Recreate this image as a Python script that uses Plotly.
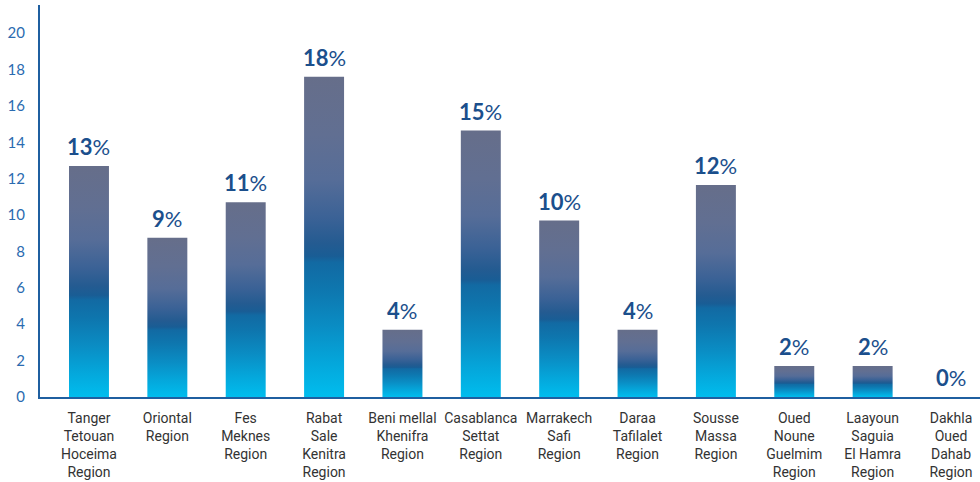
import plotly.graph_objects as go

regions = [
    "Tanger<br>Tetouan<br>Hoceima<br>Region",
    "Oriontal<br>Region",
    "Fes<br>Meknes<br>Region",
    "Rabat<br>Sale<br>Kenitra<br>Region",
    "Beni mellal<br>Khenifra<br>Region",
    "Casablanca<br>Settat<br>Region",
    "Marrakech<br>Safi<br>Region",
    "Daraa<br>Tafilalet<br>Region",
    "Sousse<br>Massa<br>Region",
    "Oued<br>Noune<br>Guelmim<br>Region",
    "Laayoun<br>Saguia<br>El Hamra<br>Region",
    "Dakhla<br>Oued<br>Dahab<br>Region",
]
shares = [12.7, 8.75, 10.7, 17.6, 3.7, 14.65, 9.7, 3.7, 11.65, 1.7, 1.7, 0.0]
y_ticks = [0, 2, 4, 6, 8, 10, 12, 14, 16, 18, 20]

bar_width = 0.51
gradient = [
    [0.0, "#00bdee"],
    [0.10, "#04a8dc"],
    [0.22, "#0a8dc4"],
    [0.34, "#0e76ae"],
    [0.42, "#126aa3"],
    [0.44, "#195d95"],
    [0.48, "#245b91"],
    [0.56, "#3b6296"],
    [0.68, "#566d98"],
    [0.82, "#616f92"],
    [1.0, "#666e8a"],
]

fig = go.Figure()

for i, v in enumerate(shares):
    if v <= 0:
        continue
    x0, x1 = i - bar_width / 2, i + bar_width / 2
    fig.add_trace(go.Scatter(
        x=[x0, x1, x1, x0, x0],
        y=[0, 0, v, v, 0],
        mode="lines",
        line=dict(width=0),
        fill="toself",
        fillgradient=dict(type="vertical", colorscale=gradient),
        hoverinfo="skip",
        showlegend=False,
    ))

for i, v in enumerate(shares):
    fig.add_annotation(
        x=i, y=v, xref="x", yref="y",
        text=f"<b>{round(v)}</b>%",
        showarrow=False, yanchor="bottom", yshift=4,
        font=dict(family="Lato", size=22, color="#1b4f8c"),
    )

fig.update_layout(
    width=980, height=482,
    margin=dict(l=40, r=0, t=5, b=85),
    paper_bgcolor="white", plot_bgcolor="white",
    showlegend=False,
    xaxis=dict(
        range=[-0.625, 11.37],
        tickvals=list(range(len(regions))),
        ticktext=regions,
        showgrid=False, zeroline=False,
        showline=True, linecolor="#1f5fa0", linewidth=2,
        ticks="", ticklabelstandoff=7,
        tickfont=dict(family="Roboto", size=14, color="#333333"),
    ),
    yaxis=dict(
        range=[0, 21.55],
        tickvals=y_ticks,
        showgrid=False, zeroline=False,
        showline=True, linecolor="#1f5fa0", linewidth=2,
        ticks="", ticklabelstandoff=10,
        tickfont=dict(family="Lato", size=15, color="#2b6bb0"),
    ),
)

fig.write_html("out.html")
